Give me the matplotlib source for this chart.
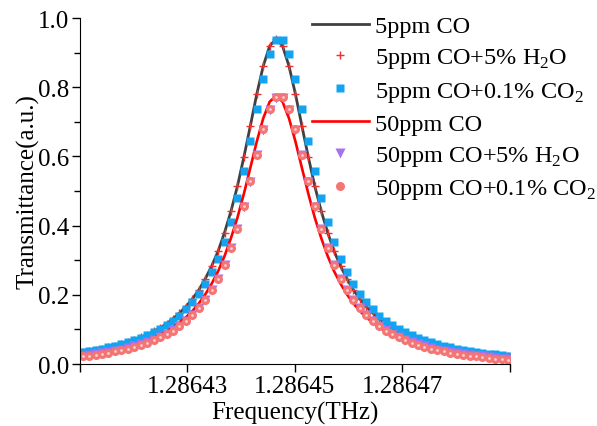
import matplotlib
matplotlib.use("Agg")
import matplotlib.pyplot as plt
from matplotlib.ticker import MultipleLocator

plt.rcParams['font.family'] = 'Liberation Serif'
plt.rcParams['mathtext.fontset'] = 'custom'
plt.rcParams['mathtext.rm'] = 'Liberation Serif'

# frequency samples (THz)
freq = [1.2864105, 1.2864117, 1.2864129, 1.2864141, 1.2864153, 1.2864165, 1.2864177,
        1.2864189, 1.2864201, 1.2864213, 1.2864225, 1.2864237, 1.2864249, 1.2864261,
        1.2864273, 1.2864285, 1.2864297, 1.2864309, 1.2864321, 1.2864333, 1.2864345,
        1.2864357, 1.2864369, 1.2864381, 1.2864393, 1.2864405, 1.2864417, 1.2864429,
        1.2864441, 1.2864453, 1.2864465, 1.2864477, 1.2864489, 1.2864501, 1.2864513,
        1.2864525, 1.2864537, 1.2864549, 1.2864561, 1.2864573, 1.2864585, 1.2864597,
        1.2864609, 1.2864621, 1.2864633, 1.2864645, 1.2864657, 1.2864669, 1.2864681,
        1.2864693, 1.2864705, 1.2864717, 1.2864729, 1.2864741, 1.2864753, 1.2864765,
        1.2864777, 1.2864789, 1.2864801, 1.2864813, 1.2864825, 1.2864837, 1.2864849,
        1.2864861, 1.2864873, 1.2864885, 1.2864897]

# 5ppm CO
co5 = [0.035, 0.038, 0.041, 0.045, 0.049, 0.053, 0.058, 0.064, 0.070, 0.077,
       0.085, 0.095, 0.105, 0.116, 0.131, 0.147, 0.166, 0.188, 0.214, 0.246,
       0.283, 0.326, 0.380, 0.442, 0.514, 0.598, 0.688, 0.780, 0.861, 0.919,
       0.940, 0.919, 0.861, 0.780, 0.688, 0.598, 0.514, 0.442, 0.380, 0.326,
       0.283, 0.246, 0.214, 0.188, 0.166, 0.147, 0.131, 0.116, 0.105, 0.095,
       0.085, 0.077, 0.070, 0.064, 0.058, 0.053, 0.049, 0.045, 0.041, 0.038,
       0.035, 0.032, 0.030, 0.027, 0.025, 0.023, 0.022]

# 5ppm CO + 5% H2O
co5_h2o = [0.035, 0.038, 0.041, 0.045, 0.049, 0.053, 0.058, 0.064, 0.070, 0.077,
           0.085, 0.095, 0.105, 0.116, 0.131, 0.147, 0.166, 0.188, 0.214, 0.246,
           0.283, 0.326, 0.380, 0.442, 0.514, 0.598, 0.688, 0.780, 0.861, 0.919,
           0.940, 0.919, 0.861, 0.780, 0.688, 0.598, 0.514, 0.442, 0.380, 0.326,
           0.283, 0.246, 0.214, 0.188, 0.166, 0.147, 0.131, 0.116, 0.105, 0.095,
           0.085, 0.077, 0.070, 0.064, 0.058, 0.053, 0.049, 0.045, 0.041, 0.038,
           0.035, 0.032, 0.030, 0.027, 0.025, 0.023, 0.022]

# 5ppm CO + 0.1% CO2
co5_co2 = [0.035, 0.038, 0.041, 0.045, 0.049, 0.053, 0.057, 0.063, 0.069, 0.075,
           0.083, 0.092, 0.101, 0.113, 0.125, 0.140, 0.158, 0.178, 0.202, 0.231,
           0.265, 0.305, 0.354, 0.411, 0.479, 0.557, 0.645, 0.737, 0.825, 0.896,
           0.936, 0.936, 0.896, 0.825, 0.737, 0.645, 0.557, 0.479, 0.411, 0.354,
           0.305, 0.265, 0.231, 0.202, 0.178, 0.158, 0.140, 0.125, 0.113, 0.101,
           0.092, 0.083, 0.075, 0.069, 0.063, 0.057, 0.053, 0.049, 0.045, 0.041,
           0.038, 0.035, 0.033, 0.030, 0.028, 0.026, 0.024]

# 50ppm CO
co50 = [0.027, 0.029, 0.032, 0.035, 0.038, 0.042, 0.046, 0.051, 0.056, 0.062,
        0.069, 0.076, 0.085, 0.094, 0.106, 0.120, 0.135, 0.153, 0.175, 0.201,
        0.232, 0.268, 0.312, 0.364, 0.423, 0.492, 0.567, 0.643, 0.710, 0.758,
        0.775, 0.758, 0.710, 0.643, 0.567, 0.492, 0.423, 0.364, 0.312, 0.268,
        0.232, 0.201, 0.175, 0.153, 0.135, 0.120, 0.106, 0.094, 0.085, 0.076,
        0.069, 0.062, 0.056, 0.051, 0.046, 0.042, 0.038, 0.035, 0.032, 0.029,
        0.027, 0.025, 0.023, 0.021, 0.019, 0.017, 0.016]

# 50ppm CO + 5% H2O
co50_h2o = [0.024, 0.026, 0.029, 0.032, 0.035, 0.038, 0.042, 0.046, 0.051, 0.057,
            0.063, 0.070, 0.078, 0.088, 0.098, 0.110, 0.125, 0.142, 0.161, 0.186,
            0.213, 0.247, 0.287, 0.334, 0.391, 0.455, 0.527, 0.603, 0.676, 0.735,
            0.768, 0.768, 0.735, 0.676, 0.603, 0.527, 0.455, 0.391, 0.334, 0.287,
            0.247, 0.213, 0.186, 0.161, 0.142, 0.125, 0.110, 0.098, 0.088, 0.078,
            0.070, 0.063, 0.057, 0.051, 0.046, 0.042, 0.038, 0.035, 0.032, 0.029,
            0.026, 0.024, 0.022, 0.020, 0.018, 0.016, 0.015]

# 50ppm CO + 0.1% CO2
co50_co2 = [0.022, 0.024, 0.027, 0.030, 0.033, 0.037, 0.040, 0.045, 0.050, 0.055,
            0.062, 0.069, 0.077, 0.086, 0.097, 0.109, 0.124, 0.141, 0.161, 0.185,
            0.213, 0.247, 0.287, 0.334, 0.391, 0.456, 0.529, 0.605, 0.679, 0.738,
            0.771, 0.771, 0.738, 0.679, 0.605, 0.529, 0.456, 0.391, 0.334, 0.287,
            0.247, 0.213, 0.185, 0.161, 0.141, 0.124, 0.109, 0.097, 0.086, 0.077,
            0.069, 0.062, 0.055, 0.050, 0.045, 0.040, 0.037, 0.033, 0.030, 0.027,
            0.024, 0.022, 0.020, 0.018, 0.016, 0.014, 0.013]

xticks = [1.28641, 1.28643, 1.28645, 1.28647, 1.28649]
xticklabels = ['', '1.28643', '1.28645', '1.28647', '']

fig = plt.figure(figsize=(5.97, 4.27), dpi=100)
ax = fig.add_axes([0.134, 0.145, 0.72, 0.8105])

ax.plot(freq, co5, color='#404040', lw=2.0, label='5ppm CO')
ax.plot(freq, co5_h2o, '+', color='#F03030', ms=6, mew=1.0, label='5ppm CO+5% H$_{\\mathregular{2}}$O')
ax.plot(freq, co5_co2, 's', color='#12A4F0', ms=5.5, mec='none', label='5ppm CO+0.1% CO$_{\\mathregular{2}}$')
ax.plot(freq, co50, color='#FF0000', lw=1.9, label='50ppm CO')
ax.plot(freq, co50_h2o, 'v', color='#A673F0', ms=6.5, mec='none', label='50ppm CO+5% H$_{\\mathregular{2}}$O')
ax.plot(freq, co50_co2, 'o', color='#F57575', ms=6.5, mec='none', label='50ppm CO+0.1% CO$_{\\mathregular{2}}$')
ax.plot(freq, co50_co2, 'o', color='#FFD0D0', ms=2, mec='none')

ax.set_xlim(1.28641, 1.28649)
ax.set_ylim(0, 1.0)
ax.set_xticks(xticks)
ax.set_xticklabels(xticklabels)
ax.yaxis.set_major_locator(MultipleLocator(0.2))
ax.yaxis.set_minor_locator(MultipleLocator(0.1))
ax.set_yticklabels(['%.1f' % v for v in ax.get_yticks()])
ax.tick_params(axis='both', which='major', labelsize=18, length=6, width=1, direction='out', pad=2)
ax.tick_params(axis='y', which='minor', length=4, width=1)
ax.spines['top'].set_visible(False)
ax.spines['right'].set_visible(False)

ax.set_xlabel('Frequency(THz)', fontsize=18, labelpad=3)
ax.set_ylabel('Transmittance(a.u.)', fontsize=18, labelpad=-1)

handles, labels = ax.get_legend_handles_labels()
fig.legend(handles, labels, loc='upper left', bbox_to_anchor=(0.522, 0.962),
           frameon=False, fontsize=17.5, handlelength=2.35, handletextpad=0.25,
           labelspacing=0.38, borderpad=0, borderaxespad=0)

fig.savefig('out.png', dpi=100)
